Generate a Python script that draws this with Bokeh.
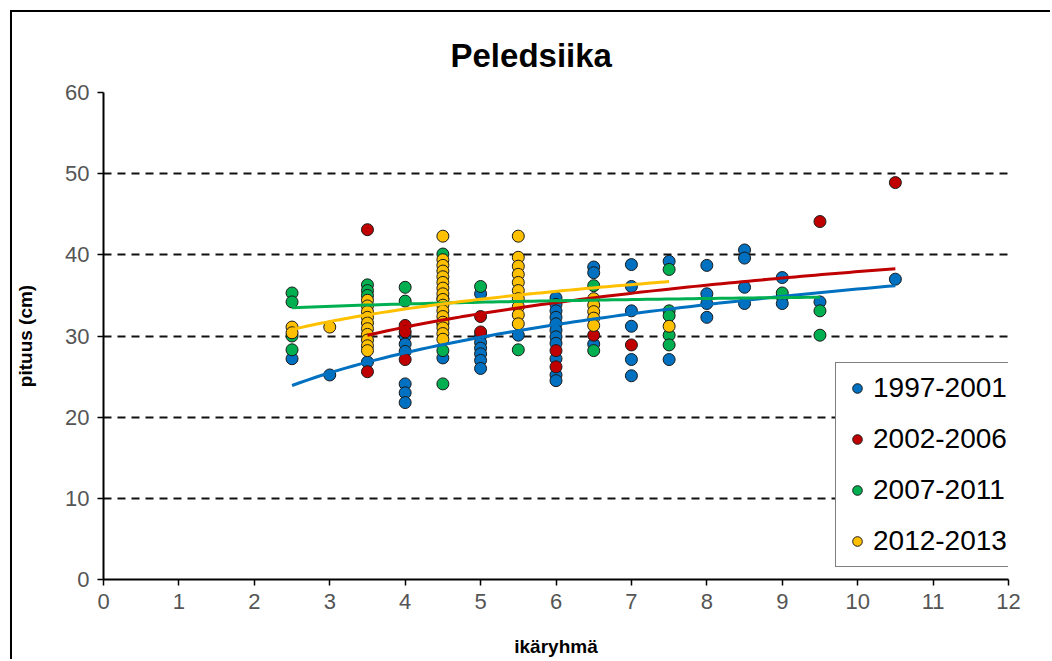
import numpy as np
from bokeh.plotting import figure
from bokeh.models import Range1d, Legend, LegendItem, FixedTicker
from bokeh.embed import file_html
from bokeh.resources import INLINE

title_text = "Peledsiika"
x_label = "ikäryhmä"
y_label = "pituus (cm)"
series_names = ["1997-2001", "2002-2006", "2007-2011", "2012-2013"]
series_colors = ["#0070C0", "#C00000", "#00B050", "#FFC000"]
x_ticks = list(range(0, 13))
y_ticks = [0, 10, 20, 30, 40, 50, 60]

# 1997-2001
blue_x = [2.5, 3, 3.5,
          4, 4, 4, 4, 4, 4,
          4.5,
          5, 5, 5, 5, 5, 5, 5,
          5.5,
          6, 6, 6, 6, 6, 6, 6, 6, 6, 6, 6,
          6.5, 6.5, 6.5,
          7, 7, 7, 7, 7, 7,
          7.5, 7.5,
          8, 8, 8, 8,
          8.5, 8.5, 8.5, 8.5,
          9, 9, 9,
          9.5, 10.5]
blue_y = [27.2, 25.2, 26.8,
          30.0, 29.0, 28.1, 24.1, 23.0, 21.8,
          27.3,
          35.2, 30.0, 29.2, 28.5, 27.8, 27.0, 26.0,
          30.1,
          34.7, 33.9, 33.1, 32.3, 31.5, 30.7, 29.9, 29.1, 27.2, 25.2, 24.5,
          38.5, 37.8, 29.0,
          38.8, 36.1, 33.1, 31.2, 27.1, 25.1,
          39.2, 27.1,
          38.7, 35.2, 34.0, 32.3,
          40.6, 39.6, 36.0, 34.0,
          37.2, 34.8, 34.0,
          34.2, 37.0]

# 2002-2006
red_x = [3.5, 3.5, 4, 4, 4, 4.5, 5, 5, 6, 6, 6.5, 7, 9.5, 10.5]
red_y = [43.1, 25.6, 31.3, 30.5, 27.1, 31.5, 32.4, 30.5, 28.2, 26.2, 30.1, 28.9, 44.1, 48.9]

# 2007-2011
green_x = [2.5, 2.5, 2.5, 2.5,
           3.5, 3.5, 3.5,
           4, 4,
           4.5, 4.5, 4.5, 4.5,
           5, 5.5,
           6.5, 6.5,
           7.5, 7.5, 7.5, 7.5, 7.5,
           9, 9.5, 9.5]
green_y = [35.3, 34.2, 30.0, 28.3,
           36.3, 35.6, 35.0,
           36.0, 34.3,
           40.1, 34.6, 28.2, 24.1,
           36.1, 28.3,
           36.2, 28.2,
           38.2, 33.1, 32.5, 30.1, 28.9,
           35.3, 33.1, 30.1]

# 2012-2013
yellow_x = [2.5, 2.5, 3,
            3.5, 3.5, 3.5, 3.5, 3.5, 3.5, 3.5, 3.5, 3.5, 3.5,
            4.5, 4.5, 4.5, 4.5, 4.5, 4.5, 4.5, 4.5, 4.5, 4.5, 4.5, 4.5, 4.5, 4.5, 4.5, 4.5,
            5.5, 5.5, 5.5, 5.5, 5.5, 5.5, 5.5, 5.5, 5.5, 5.5,
            6.5, 6.5, 6.5, 6.5, 6.5,
            7.5]
yellow_y = [31.1, 30.4, 31.1,
            34.4, 33.7, 33.0, 32.3, 31.6, 30.9, 30.2, 29.5, 28.8, 28.2,
            42.3, 39.4, 38.7, 38.0, 37.3, 36.6, 35.9, 35.2, 34.5, 33.8, 33.1, 32.4, 31.7, 31.0, 30.3, 29.6,
            42.3, 39.7, 38.6, 37.6, 36.6, 35.6, 34.6, 33.6, 32.6, 31.5,
            34.6, 33.8, 33.0, 32.2, 31.3,
            31.2]

# logarithmic trendlines y = a + b*ln(x), coefficients
trend_a = [16.05, 20.75, 32.6, 25.88]
trend_b = [8.57, 7.46, 0.97, 5.37]
trend_x0 = [2.5, 3.5, 2.5, 2.5]
trend_x1 = [10.5, 10.5, 9.5, 7.5]

series_x = [blue_x, red_x, green_x, yellow_x]
series_y = [blue_y, red_y, green_y, yellow_y]

FONT = "Liberation Sans"

p = figure(width=1040, height=649, output_backend="svg", toolbar_location=None,
           x_range=Range1d(0, 12), y_range=Range1d(0, 60),
           min_border_left=91, min_border_right=44, min_border_top=80, min_border_bottom=82,
           margin=(10, 0, 0, 10),
           styles={"border-left": "2px solid #000", "border-top": "2px solid #000"})

p.title.text = title_text
p.title.align = "left"
p.title.offset = 347
p.title.text_font = FONT
p.title.text_font_size = "33px"
p.title.text_font_style = "bold"
p.title.text_color = "#000000"
p.title.standoff = 38

p.outline_line_color = None
p.xgrid.grid_line_color = None
p.ygrid.grid_line_color = "#111111"
p.ygrid.grid_line_width = 2
p.ygrid.grid_line_dash = "8 6"

for ax in (p.xaxis[0], p.yaxis[0]):
    ax.axis_line_color = "#000000"
    ax.axis_line_width = 2
    ax.major_tick_line_color = "#000000"
    ax.major_tick_line_width = 1.5
    ax.major_tick_out = 6
    ax.major_tick_in = 0
    ax.minor_tick_line_color = None
    ax.major_label_text_font = FONT
    ax.major_label_text_font_size = "22px"
    ax.major_label_text_color = "#555555"
    ax.axis_label_text_font = FONT
    ax.axis_label_text_font_size = "19px"
    ax.axis_label_text_font_style = "bold"
    ax.axis_label_text_color = "#000000"

p.xaxis[0].ticker = FixedTicker(ticks=x_ticks)
p.yaxis[0].ticker = FixedTicker(ticks=y_ticks)
p.xaxis[0].axis_label = x_label
p.yaxis[0].axis_label = y_label
p.xaxis[0].axis_label_standoff = 24
p.yaxis[0].axis_label_standoff = 26
p.xaxis[0].major_label_standoff = 8
p.yaxis[0].major_label_standoff = 8

items = []
for name, col, xs, ys in zip(series_names, series_colors, series_x, series_y):
    r = p.scatter(xs, ys, size=12, fill_color=col, line_color="#1a1a1a", line_width=1)
    items.append(LegendItem(label=name, renderers=[r]))

for col, a, b, x0, x1 in zip(series_colors, trend_a, trend_b, trend_x0, trend_x1):
    tx = np.linspace(x0, x1, 80)
    ty = a + b * np.log(tx)
    p.line(tx, ty, line_color=col, line_width=3)

legend = Legend(items=items, location=(732, 12),
                label_text_font=FONT, label_text_font_size="28px", label_text_color="#000000",
                glyph_width=24, glyph_height=28, label_height=28, spacing=19,
                padding=9, margin=0, label_standoff=4,
                border_line_color="#000000", border_line_width=1.5,
                background_fill_color="#ffffff", background_fill_alpha=1.0)
p.add_layout(legend, "center")

open("out.html", "w").write(file_html(p, INLINE))
